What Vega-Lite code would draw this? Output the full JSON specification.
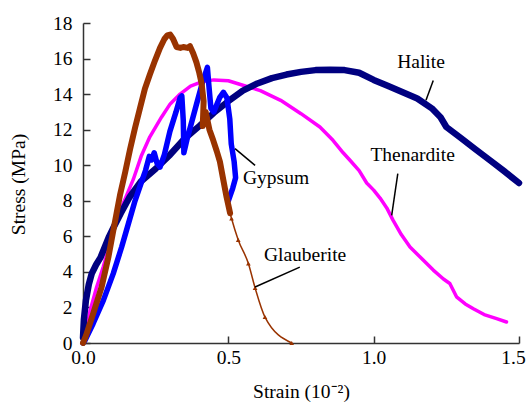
{
  "$schema": "https://vega.github.io/schema/vega-lite/v6.json",
  "width": 436,
  "height": 320,
  "autosize": "none",
  "padding": {"left": 83, "top": 23, "right": 10, "bottom": 60},
  "background": "white",
  "config": {
    "view": {"stroke": null},
    "font": "Liberation Serif",
    "axis": {
      "grid": false,
      "labelFlush": false,
      "labelOverlap": false,
      "domainColor": "#333333",
      "domainWidth": 1.5,
      "tickColor": "#333333",
      "tickWidth": 1.5,
      "tickSize": -7,
      "labelFont": "Liberation Serif",
      "labelFontSize": 19.5,
      "labelColor": "#000000",
      "titleFont": "Liberation Serif",
      "titleFontSize": 19.5,
      "titleFontWeight": "normal",
      "titleColor": "#000000"
    }
  },
  "datasets": {
    "curves": [
      {"mineral": "Halite", "seq": 1, "strain": 0, "stress": 0.3},
      {"mineral": "Halite", "seq": 2, "strain": 0.003, "stress": 1.3},
      {"mineral": "Halite", "seq": 3, "strain": 0.01, "stress": 2.4},
      {"mineral": "Halite", "seq": 4, "strain": 0.02, "stress": 3.3},
      {"mineral": "Halite", "seq": 5, "strain": 0.03, "stress": 3.9},
      {"mineral": "Halite", "seq": 6, "strain": 0.045, "stress": 4.4},
      {"mineral": "Halite", "seq": 7, "strain": 0.06, "stress": 4.8},
      {"mineral": "Halite", "seq": 8, "strain": 0.075, "stress": 5.4},
      {"mineral": "Halite", "seq": 9, "strain": 0.09, "stress": 6.0},
      {"mineral": "Halite", "seq": 10, "strain": 0.105, "stress": 6.5},
      {"mineral": "Halite", "seq": 11, "strain": 0.13, "stress": 7.3},
      {"mineral": "Halite", "seq": 12, "strain": 0.16, "stress": 8.2},
      {"mineral": "Halite", "seq": 13, "strain": 0.2, "stress": 9.1},
      {"mineral": "Halite", "seq": 14, "strain": 0.25, "stress": 9.8},
      {"mineral": "Halite", "seq": 15, "strain": 0.3, "stress": 10.6},
      {"mineral": "Halite", "seq": 16, "strain": 0.35, "stress": 11.5},
      {"mineral": "Halite", "seq": 17, "strain": 0.4, "stress": 12.2},
      {"mineral": "Halite", "seq": 18, "strain": 0.45, "stress": 12.95},
      {"mineral": "Halite", "seq": 19, "strain": 0.5, "stress": 13.6},
      {"mineral": "Halite", "seq": 20, "strain": 0.55, "stress": 14.2},
      {"mineral": "Halite", "seq": 21, "strain": 0.6, "stress": 14.6},
      {"mineral": "Halite", "seq": 22, "strain": 0.65, "stress": 14.9},
      {"mineral": "Halite", "seq": 23, "strain": 0.7, "stress": 15.1},
      {"mineral": "Halite", "seq": 24, "strain": 0.75, "stress": 15.25},
      {"mineral": "Halite", "seq": 25, "strain": 0.8, "stress": 15.35},
      {"mineral": "Halite", "seq": 26, "strain": 0.85, "stress": 15.37},
      {"mineral": "Halite", "seq": 27, "strain": 0.9, "stress": 15.35},
      {"mineral": "Halite", "seq": 28, "strain": 0.95, "stress": 15.2},
      {"mineral": "Halite", "seq": 29, "strain": 1.0, "stress": 14.8},
      {"mineral": "Halite", "seq": 30, "strain": 1.05, "stress": 14.45},
      {"mineral": "Halite", "seq": 31, "strain": 1.1, "stress": 14.1},
      {"mineral": "Halite", "seq": 32, "strain": 1.15, "stress": 13.75},
      {"mineral": "Halite", "seq": 33, "strain": 1.2, "stress": 13.2},
      {"mineral": "Halite", "seq": 34, "strain": 1.23, "stress": 12.7},
      {"mineral": "Halite", "seq": 35, "strain": 1.25, "stress": 12.15},
      {"mineral": "Halite", "seq": 36, "strain": 1.3, "stress": 11.53},
      {"mineral": "Halite", "seq": 37, "strain": 1.35, "stress": 10.9},
      {"mineral": "Halite", "seq": 38, "strain": 1.4, "stress": 10.28},
      {"mineral": "Halite", "seq": 39, "strain": 1.45, "stress": 9.65},
      {"mineral": "Halite", "seq": 40, "strain": 1.5, "stress": 9.0},

      {"mineral": "Thenardite", "seq": 1, "strain": 0, "stress": 0},
      {"mineral": "Thenardite", "seq": 2, "strain": 0.01, "stress": 0.6},
      {"mineral": "Thenardite", "seq": 3, "strain": 0.024, "stress": 1.8},
      {"mineral": "Thenardite", "seq": 4, "strain": 0.047, "stress": 3.15},
      {"mineral": "Thenardite", "seq": 5, "strain": 0.07, "stress": 4.3},
      {"mineral": "Thenardite", "seq": 6, "strain": 0.093, "stress": 5.6},
      {"mineral": "Thenardite", "seq": 7, "strain": 0.11, "stress": 6.6},
      {"mineral": "Thenardite", "seq": 8, "strain": 0.127, "stress": 7.4},
      {"mineral": "Thenardite", "seq": 9, "strain": 0.15, "stress": 8.3},
      {"mineral": "Thenardite", "seq": 10, "strain": 0.173, "stress": 9.2},
      {"mineral": "Thenardite", "seq": 11, "strain": 0.2, "stress": 10.5},
      {"mineral": "Thenardite", "seq": 12, "strain": 0.23, "stress": 11.6},
      {"mineral": "Thenardite", "seq": 13, "strain": 0.27, "stress": 12.7},
      {"mineral": "Thenardite", "seq": 14, "strain": 0.3, "stress": 13.45},
      {"mineral": "Thenardite", "seq": 15, "strain": 0.334, "stress": 14.0},
      {"mineral": "Thenardite", "seq": 16, "strain": 0.37, "stress": 14.45},
      {"mineral": "Thenardite", "seq": 17, "strain": 0.41, "stress": 14.7},
      {"mineral": "Thenardite", "seq": 18, "strain": 0.45, "stress": 14.8},
      {"mineral": "Thenardite", "seq": 19, "strain": 0.5, "stress": 14.75},
      {"mineral": "Thenardite", "seq": 20, "strain": 0.55, "stress": 14.5},
      {"mineral": "Thenardite", "seq": 21, "strain": 0.61, "stress": 14.2},
      {"mineral": "Thenardite", "seq": 22, "strain": 0.68, "stress": 13.65},
      {"mineral": "Thenardite", "seq": 23, "strain": 0.75, "stress": 12.9},
      {"mineral": "Thenardite", "seq": 24, "strain": 0.815, "stress": 12.15},
      {"mineral": "Thenardite", "seq": 25, "strain": 0.86, "stress": 11.4},
      {"mineral": "Thenardite", "seq": 26, "strain": 0.895, "stress": 10.7},
      {"mineral": "Thenardite", "seq": 27, "strain": 0.92, "stress": 10.25},
      {"mineral": "Thenardite", "seq": 28, "strain": 0.95, "stress": 9.7},
      {"mineral": "Thenardite", "seq": 29, "strain": 0.976, "stress": 9.0},
      {"mineral": "Thenardite", "seq": 30, "strain": 1.0, "stress": 8.6},
      {"mineral": "Thenardite", "seq": 31, "strain": 1.022, "stress": 8.15},
      {"mineral": "Thenardite", "seq": 32, "strain": 1.045, "stress": 7.6},
      {"mineral": "Thenardite", "seq": 33, "strain": 1.067, "stress": 6.9},
      {"mineral": "Thenardite", "seq": 34, "strain": 1.095, "stress": 6.1},
      {"mineral": "Thenardite", "seq": 35, "strain": 1.125, "stress": 5.4},
      {"mineral": "Thenardite", "seq": 36, "strain": 1.165, "stress": 4.75},
      {"mineral": "Thenardite", "seq": 37, "strain": 1.205, "stress": 4.1},
      {"mineral": "Thenardite", "seq": 38, "strain": 1.24, "stress": 3.6},
      {"mineral": "Thenardite", "seq": 39, "strain": 1.262, "stress": 3.35},
      {"mineral": "Thenardite", "seq": 40, "strain": 1.285, "stress": 2.6},
      {"mineral": "Thenardite", "seq": 41, "strain": 1.315, "stress": 2.2},
      {"mineral": "Thenardite", "seq": 42, "strain": 1.343, "stress": 1.93},
      {"mineral": "Thenardite", "seq": 43, "strain": 1.38, "stress": 1.6},
      {"mineral": "Thenardite", "seq": 44, "strain": 1.423, "stress": 1.37},
      {"mineral": "Thenardite", "seq": 45, "strain": 1.457, "stress": 1.18},

      {"mineral": "Gypsum", "seq": 1, "strain": 0, "stress": 0},
      {"mineral": "Gypsum", "seq": 2, "strain": 0.007, "stress": 0.15},
      {"mineral": "Gypsum", "seq": 3, "strain": 0.035, "stress": 1.1},
      {"mineral": "Gypsum", "seq": 4, "strain": 0.07, "stress": 2.4},
      {"mineral": "Gypsum", "seq": 5, "strain": 0.104, "stress": 3.9},
      {"mineral": "Gypsum", "seq": 6, "strain": 0.133, "stress": 5.4},
      {"mineral": "Gypsum", "seq": 7, "strain": 0.156, "stress": 6.7},
      {"mineral": "Gypsum", "seq": 8, "strain": 0.179, "stress": 8.0},
      {"mineral": "Gypsum", "seq": 9, "strain": 0.2, "stress": 9.0},
      {"mineral": "Gypsum", "seq": 10, "strain": 0.215, "stress": 9.7},
      {"mineral": "Gypsum", "seq": 11, "strain": 0.228, "stress": 10.5},
      {"mineral": "Gypsum", "seq": 12, "strain": 0.236, "stress": 10.3},
      {"mineral": "Gypsum", "seq": 13, "strain": 0.245, "stress": 10.7},
      {"mineral": "Gypsum", "seq": 14, "strain": 0.255, "stress": 10.1},
      {"mineral": "Gypsum", "seq": 15, "strain": 0.265, "stress": 9.9},
      {"mineral": "Gypsum", "seq": 16, "strain": 0.28, "stress": 10.6},
      {"mineral": "Gypsum", "seq": 17, "strain": 0.299, "stress": 11.9},
      {"mineral": "Gypsum", "seq": 18, "strain": 0.32, "stress": 13.0},
      {"mineral": "Gypsum", "seq": 19, "strain": 0.334, "stress": 13.8},
      {"mineral": "Gypsum", "seq": 20, "strain": 0.34, "stress": 13.9},
      {"mineral": "Gypsum", "seq": 21, "strain": 0.345, "stress": 12.5},
      {"mineral": "Gypsum", "seq": 22, "strain": 0.347, "stress": 10.7},
      {"mineral": "Gypsum", "seq": 23, "strain": 0.357, "stress": 11.4},
      {"mineral": "Gypsum", "seq": 24, "strain": 0.39, "stress": 13.4},
      {"mineral": "Gypsum", "seq": 25, "strain": 0.41, "stress": 14.6},
      {"mineral": "Gypsum", "seq": 26, "strain": 0.428, "stress": 15.5},
      {"mineral": "Gypsum", "seq": 27, "strain": 0.433, "stress": 14.5},
      {"mineral": "Gypsum", "seq": 28, "strain": 0.44, "stress": 13.2},
      {"mineral": "Gypsum", "seq": 29, "strain": 0.45, "stress": 13.0},
      {"mineral": "Gypsum", "seq": 30, "strain": 0.47, "stress": 13.8},
      {"mineral": "Gypsum", "seq": 31, "strain": 0.483, "stress": 14.1},
      {"mineral": "Gypsum", "seq": 32, "strain": 0.495, "stress": 13.8},
      {"mineral": "Gypsum", "seq": 33, "strain": 0.505, "stress": 12.6},
      {"mineral": "Gypsum", "seq": 34, "strain": 0.51, "stress": 11.2},
      {"mineral": "Gypsum", "seq": 35, "strain": 0.52, "stress": 10.2},
      {"mineral": "Gypsum", "seq": 36, "strain": 0.525, "stress": 9.3},
      {"mineral": "Gypsum", "seq": 37, "strain": 0.515, "stress": 8.7},
      {"mineral": "Gypsum", "seq": 38, "strain": 0.5, "stress": 8.0},

      {"mineral": "Glauberite", "seq": 1, "strain": 0, "stress": 0},
      {"mineral": "Glauberite", "seq": 2, "strain": 0.01, "stress": 0.4},
      {"mineral": "Glauberite", "seq": 3, "strain": 0.035, "stress": 1.65},
      {"mineral": "Glauberite", "seq": 4, "strain": 0.064, "stress": 3.15},
      {"mineral": "Glauberite", "seq": 5, "strain": 0.087, "stress": 4.8},
      {"mineral": "Glauberite", "seq": 6, "strain": 0.104, "stress": 6.3},
      {"mineral": "Glauberite", "seq": 7, "strain": 0.127, "stress": 8.3},
      {"mineral": "Glauberite", "seq": 8, "strain": 0.145, "stress": 9.6},
      {"mineral": "Glauberite", "seq": 9, "strain": 0.162, "stress": 10.9},
      {"mineral": "Glauberite", "seq": 10, "strain": 0.179, "stress": 12.1},
      {"mineral": "Glauberite", "seq": 11, "strain": 0.196, "stress": 13.2},
      {"mineral": "Glauberite", "seq": 12, "strain": 0.213, "stress": 14.3},
      {"mineral": "Glauberite", "seq": 13, "strain": 0.23, "stress": 15.1},
      {"mineral": "Glauberite", "seq": 14, "strain": 0.248, "stress": 15.9},
      {"mineral": "Glauberite", "seq": 15, "strain": 0.265, "stress": 16.6},
      {"mineral": "Glauberite", "seq": 16, "strain": 0.28, "stress": 17.1},
      {"mineral": "Glauberite", "seq": 17, "strain": 0.29, "stress": 17.3},
      {"mineral": "Glauberite", "seq": 18, "strain": 0.3, "stress": 17.35},
      {"mineral": "Glauberite", "seq": 19, "strain": 0.31, "stress": 17.1},
      {"mineral": "Glauberite", "seq": 20, "strain": 0.322, "stress": 16.65},
      {"mineral": "Glauberite", "seq": 21, "strain": 0.335, "stress": 16.6},
      {"mineral": "Glauberite", "seq": 22, "strain": 0.345, "stress": 16.65},
      {"mineral": "Glauberite", "seq": 23, "strain": 0.36, "stress": 16.6},
      {"mineral": "Glauberite", "seq": 24, "strain": 0.368, "stress": 16.7},
      {"mineral": "Glauberite", "seq": 25, "strain": 0.379, "stress": 16.3},
      {"mineral": "Glauberite", "seq": 26, "strain": 0.39, "stress": 15.8},
      {"mineral": "Glauberite", "seq": 27, "strain": 0.4, "stress": 15.2},
      {"mineral": "Glauberite", "seq": 28, "strain": 0.408, "stress": 14.6},
      {"mineral": "Glauberite", "seq": 29, "strain": 0.415, "stress": 13.6},
      {"mineral": "Glauberite", "seq": 30, "strain": 0.412, "stress": 12.2},
      {"mineral": "Glauberite", "seq": 31, "strain": 0.422, "stress": 13.0},
      {"mineral": "Glauberite", "seq": 32, "strain": 0.435, "stress": 12.0},
      {"mineral": "Glauberite", "seq": 33, "strain": 0.448, "stress": 11.4},
      {"mineral": "Glauberite", "seq": 34, "strain": 0.46, "stress": 10.8},
      {"mineral": "Glauberite", "seq": 35, "strain": 0.471, "stress": 10.2},
      {"mineral": "Glauberite", "seq": 36, "strain": 0.483, "stress": 9.15},
      {"mineral": "Glauberite", "seq": 37, "strain": 0.494, "stress": 8.2},
      {"mineral": "Glauberite", "seq": 38, "strain": 0.506, "stress": 7.3},
      {"mineral": "Glauberite", "seq": 39, "strain": 0.511, "stress": 7.0},
      {"mineral": "Glauberite", "seq": 40, "strain": 0.534, "stress": 5.8},
      {"mineral": "Glauberite", "seq": 41, "strain": 0.569, "stress": 4.47},
      {"mineral": "Glauberite", "seq": 42, "strain": 0.592, "stress": 3.1},
      {"mineral": "Glauberite", "seq": 43, "strain": 0.626, "stress": 1.46},
      {"mineral": "Glauberite", "seq": 44, "strain": 0.718, "stress": 0}
    ],
    "labels": [
      {"label": "Halite", "strain": 1.163, "stress": 15.79, "strain2": 1.205, "stress2": 14.77, "strain3": 1.18, "stress3": 13.65},
      {"label": "Thenardite", "strain": 1.134, "stress": 10.56, "strain2": 1.083, "stress2": 9.53, "strain3": 1.062, "stress3": 7.18},
      {"label": "Gypsum", "strain": 0.664, "stress": 9.26, "strain2": 0.592, "stress2": 9.99, "strain3": 0.523, "stress3": 10.93},
      {"label": "Glauberite", "strain": 0.764, "stress": 4.93, "strain2": 0.746, "stress2": 4.27, "strain3": 0.592, "stress3": 3.15}
    ]
  },
  "encoding": {
    "x": {
      "field": "strain", "type": "quantitative",
      "scale": {"domain": [0, 1.5], "nice": false, "zero": false},
      "axis": {
        "title": "Strain (10⁻²)",
        "values": [0, 0.5, 1, 1.5],
        "format": ".1f",
        "labelPadding": 12,
        "labelOffset": {"condition": {"test": "datum.value >= 1.5", "value": -6}, "value": 0},
        "titleX": 218, "titleY": 54, "titleBaseline": "alphabetic", "titleAnchor": "middle"
      }
    },
    "y": {
      "field": "stress", "type": "quantitative",
      "scale": {"domain": [0, 18], "nice": false},
      "axis": {
        "title": "Stress (MPa)",
        "values": [0, 2, 4, 6, 8, 10, 12, 14, 16, 18],
        "labelPadding": 18,
        "titleX": -65, "titleY": 161, "titleAngle": 270, "titleBaseline": "middle", "titleAlign": "center", "titleAnchor": "middle"
      }
    }
  },
  "layer": [
    {
      "data": {"name": "curves"},
      "transform": [{"filter": "datum.mineral === 'Thenardite'"}],
      "mark": {"type": "line", "color": "#FF00FF", "strokeWidth": 3.5, "strokeCap": "round", "strokeJoin": "round"},
      "encoding": {"order": {"field": "seq", "type": "quantitative"}}
    },
    {
      "data": {"name": "curves"},
      "transform": [{"filter": "datum.mineral === 'Halite'"}],
      "mark": {"type": "line", "color": "#000080", "strokeWidth": 6.5, "strokeCap": "round", "strokeJoin": "round"},
      "encoding": {"order": {"field": "seq", "type": "quantitative"}}
    },
    {
      "data": {"name": "curves"},
      "transform": [{"filter": "datum.mineral === 'Gypsum'"}],
      "mark": {"type": "line", "color": "#0000FF", "strokeWidth": 5.5, "strokeCap": "round", "strokeJoin": "round"},
      "encoding": {"order": {"field": "seq", "type": "quantitative"}}
    },
    {
      "data": {"name": "curves"},
      "transform": [{"filter": "datum.mineral === 'Glauberite' && datum.seq <= 38"}],
      "mark": {"type": "line", "color": "#993300", "strokeWidth": 6, "strokeCap": "round", "strokeJoin": "round"},
      "encoding": {"order": {"field": "seq", "type": "quantitative"}}
    },
    {
      "data": {"name": "curves"},
      "transform": [{"filter": "datum.mineral === 'Glauberite' && datum.seq >= 38"}],
      "mark": {"type": "line", "color": "#993300", "strokeWidth": 1.5, "interpolate": "monotone",
               "point": {"shape": "triangle-up", "filled": true, "color": "#993300", "size": 22}},
      "encoding": {"order": {"field": "seq", "type": "quantitative"}}
    },
    {
      "data": {"name": "labels"},
      "mark": {"type": "rule", "color": "#000000", "strokeWidth": 1.5},
      "encoding": {
        "x": {"field": "strain2", "type": "quantitative"},
        "y": {"field": "stress2", "type": "quantitative"},
        "x2": {"field": "strain3"},
        "y2": {"field": "stress3"}
      }
    },
    {
      "data": {"name": "labels"},
      "mark": {"type": "text", "font": "Liberation Serif", "fontSize": 19.5, "color": "#000000", "align": "center", "baseline": "middle"},
      "encoding": {"text": {"field": "label"}}
    }
  ]
}
